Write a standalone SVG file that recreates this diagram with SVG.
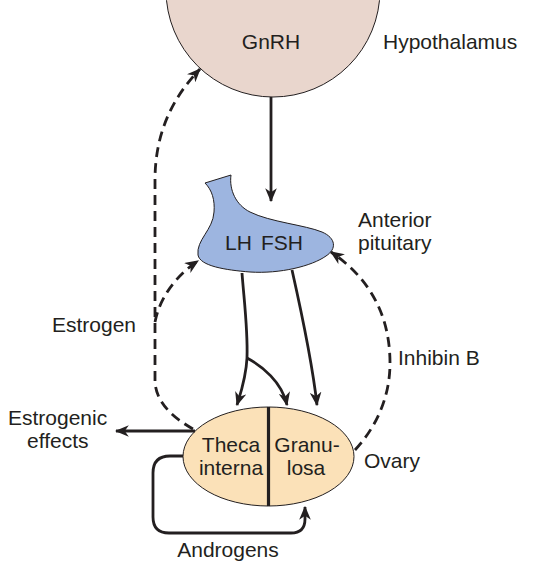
<svg xmlns="http://www.w3.org/2000/svg" width="533" height="581" viewBox="0 0 533 581">
<defs>
<style>
text{font-family:"Liberation Sans",Arial,sans-serif;font-size:21px;fill:#231f20}
.c{text-anchor:middle}
.solid{fill:none;stroke:#231f20;stroke-width:2.8}
.dash{fill:none;stroke:#231f20;stroke-width:2.8;stroke-dasharray:10 6}
.outline{stroke:#231f20;stroke-width:1}
</style>
<marker id="ah" viewBox="0 0 12 10" refX="11" refY="5" markerWidth="14" markerHeight="12" markerUnits="userSpaceOnUse" orient="auto">
<path d="M0,0 L12,5 L0,10 L3.5,5 Z" fill="#231f20"/>
</marker>
</defs>
<rect width="533" height="581" fill="#ffffff"/>

<g id="hypothalamus">
<circle cx="273" cy="-10" r="107" fill="#e9d6cd" class="outline"/>
<text x="271" y="49" class="c">GnRH</text>
<text x="383" y="49">Hypothalamus</text>
</g>

<g id="pituitary">
<path d="M205,183 L231,175 C229,190 236,205 250,212 C270,222 305,225 322,232 C336,238 337,249 326,256 C312,266 280,274 250,272 C225,270 200,266 198,255 C196,240 213,230 214,212 C215,200 212,190 205,183 Z" fill="#9db5e0" class="outline"/>
<text x="225" y="250">LH</text>
<text x="303" y="250" text-anchor="end">FSH</text>
<text x="358" y="227">Anterior</text>
<text x="358" y="250">pituitary</text>
</g>

<g id="ovary">
<ellipse cx="268.5" cy="456.5" rx="85.5" ry="49.5" fill="#fbe1b8" class="outline"/>
<line x1="268.5" y1="407" x2="268.5" y2="506" stroke="#231f20" stroke-width="3.2"/>
<text x="231" y="452" class="c">Theca</text>
<text x="231" y="475" class="c">interna</text>
<text x="307" y="452" class="c">Granu-</text>
<text x="306" y="475" class="c">losa</text>
<text x="364" y="468">Ovary</text>
</g>

<g id="labels">
<text x="8" y="425">Estrogenic</text>
<text x="27" y="448">effects</text>
<text x="52" y="332">Estrogen</text>
<text x="398" y="365">Inhibin B</text>
<text x="228" y="557" class="c">Androgens</text>
</g>

<g id="connectors">
<path class="solid" d="M271,97 V201" marker-end="url(#ah)"/>
<path class="solid" d="M242,273 C244,300 248,330 247,358 C246,378 241,392 237,405" marker-end="url(#ah)"/>
<path class="solid" d="M247,358 C262,366 282,382 287,405" marker-end="url(#ah)"/>
<path class="solid" d="M292,270 C301,310 312,360 317,405" marker-end="url(#ah)"/>
<path class="solid" d="M195,431 H116" marker-end="url(#ah)"/>
<path class="solid" d="M183,456 H170 Q153,456 153,473 V517 Q153,533 169,533 H291 Q305,533 305,519 V507" marker-end="url(#ah)"/>
<path class="dash" d="M193,429 C170,416 155,400 155,380 V180 C155,130 175,95 200,69" marker-end="url(#ah)"/>
<path class="dash" d="M155,322 C160,296 178,274 198,261" marker-end="url(#ah)"/>
<path class="dash" d="M355,450 C378,425 390,395 390,363 C390,310 365,275 331,252" marker-end="url(#ah)"/>
</g>
</svg>
